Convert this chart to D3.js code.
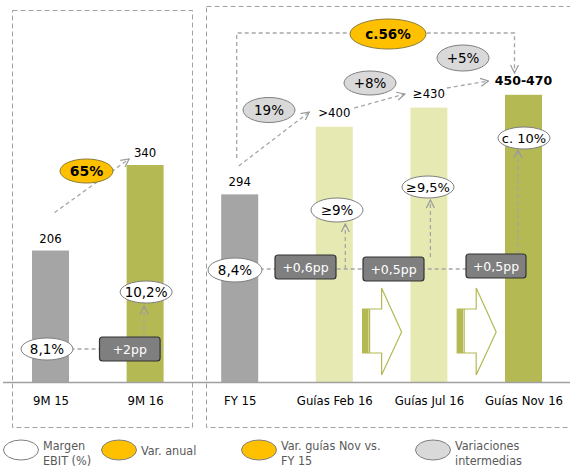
<!DOCTYPE html>
<html><head><meta charset="utf-8">
<script src="https://cdn.jsdelivr.net/npm/d3@7"></script>
<style>
html,body{margin:0;padding:0;background:#fff;}
svg{display:block;font-family:"DejaVu Sans",sans-serif;}
.cond{font-family:"DejaVu Sans Condensed","DejaVu Sans",sans-serif;font-stretch:condensed;}
</style></head>
<body><svg id="c" width="570" height="468"></svg>
<script>
// ---- data ----
const categories = ["9M 15","9M 16","FY 15","Guías Feb 16","Guías Jul 16","Guías Nov 16"];
const values = [206, 340, 294, 400, 430, 450];
const valueLabels = ["206","340","294",">400","≥430","450-470"];
const barKinds = ["actual","actual16","actual","guide","guide","final"];
const margins = ["8,1%","10,2%","8,4%","≥9%","≥9,5%","c. 10%"];
const ppChanges = ["+2pp","+0,6pp","+0,5pp","+0,5pp"];
const growthAnnual = ["65%"];
const growthSteps = ["19%","+8%","+5%"];
const growthTotal = ["c.56%"];
const legendLabels = [["Margen","EBIT (%)"],["Var. anual"],["Var. guías Nov vs.","FY 15"],["Variaciones","intermedias"]];

// ---- layout ----
const svg = d3.select("#c");
const base = 382;
const x = d3.scalePoint().domain(categories).range([3.2, 570.8]).padding(0.5);
const y = d3.scaleLinear().domain([0, 340]).range([base, 165]);
const bw = 37;
const colors = {actual:"#a5a5a5", actual16:"#b4b954", guide:"#e6eab2", final:"#b4b954"};
const dashC = "#a6a6a6";
const defs = svg.append("defs");
defs.append("marker").attr("id","ah").attr("viewBox","0 0 10 10").attr("refX",9).attr("refY",5)
  .attr("markerWidth",10).attr("markerHeight",10).attr("markerUnits","userSpaceOnUse").attr("orient","auto")
  .append("path").attr("d","M1,1 L9,5 L1,9").attr("fill","none").attr("stroke","#999").attr("stroke-width",1.2);

// panels
svg.append("rect").attr("x",12.5).attr("y",10.5).attr("width",180).attr("height",417)
  .attr("fill","none").attr("stroke","#a0a0a0").attr("stroke-dasharray","5,3");
svg.append("rect").attr("x",206.5).attr("y",6.5).attr("width",366).attr("height",421)
  .attr("fill","none").attr("stroke","#a0a0a0").attr("stroke-dasharray","5,3");

// bars
svg.selectAll("rect.bar").data(categories).join("rect").attr("class","bar")
  .attr("x",d=>x(d)-bw/2).attr("width",bw)
  .attr("y",(d,i)=>y(values[i])).attr("height",(d,i)=>base-y(values[i]))
  .attr("fill",(d,i)=>colors[barKinds[i]]);

// axis
const axis = svg.append("g").attr("class","cond").attr("transform",`translate(0,${base})`).call(d3.axisBottom(x).tickSize(0).tickPadding(14));
axis.select(".domain").attr("d","M3,0.5H570").attr("stroke","#a0a0a0").attr("stroke-width",1.5);
axis.selectAll("text").attr("font-size",13).attr("fill","#000").attr("font-family",null);

// value labels
svg.selectAll("text.val").data(categories).join("text").attr("class",(d,i)=>i==5?"val":"val cond")
  .attr("x",d=>x(d)).attr("y",(d,i)=>y(values[i])-(i<3?8:10))
  .attr("text-anchor","middle").attr("font-size",(d,i)=>i==5?12.5:13)
  .attr("font-weight",(d,i)=>i==5?"bold":"normal").text((d,i)=>valueLabels[i]);

// block arrows
function blockArrow(cx){
  const g = svg.append("g").attr("fill","none").attr("stroke","#b4b954").attr("stroke-width",1.2);
  g.append("path").attr("d",`M${cx-19},309 H${cx} V288 L${cx+20},332 L${cx},375 V353 H${cx-19} Z`).attr("fill","#fff");
  g.append("rect").attr("x",cx-19).attr("y",309).attr("width",6).attr("height",44).attr("fill","#b4b954").attr("stroke","none");
  g.append("line").attr("x1",cx-12).attr("x2",cx-12).attr("y1",309).attr("y2",353);
}
blockArrow((x(categories[3])+x(categories[4]))/2);
blockArrow((x(categories[4])+x(categories[5]))/2);

function dline(d, arrow){
  const p = svg.append("path").attr("d",d).attr("fill","none").attr("stroke",dashC).attr("stroke-width",1.3).attr("stroke-dasharray","4,3");
  if(arrow) p.attr("marker-end","url(#ah)");
  return p;
}
function ell(cx,cy,rx,ry,fill,label,opts={}){
  svg.append("ellipse").attr("cx",cx).attr("cy",cy).attr("rx",rx).attr("ry",ry).attr("fill",fill)
    .attr("stroke",opts.stroke||"#7f7f7f").attr("stroke-width",1);
  svg.append("text").attr("x",cx).attr("y",cy).attr("dy","0.36em").attr("text-anchor","middle")
    .attr("font-size",opts.size||13.5).attr("font-weight",opts.bold?"bold":"normal").attr("fill","#000").text(label);
}
function box(x0,x1,cy,label){
  svg.append("rect").attr("x",x0).attr("y",cy-12).attr("width",x1-x0).attr("height",24).attr("rx",3)
    .attr("fill","#7f7f7f").attr("stroke","#333").attr("stroke-width",1.2);
  svg.append("text").attr("x",(x0+x1)/2).attr("y",cy).attr("dy","0.36em").attr("text-anchor","middle")
    .attr("font-size",12.5).attr("fill","#fff").text(label);
}

// --- left panel margin annotations
const xa = x(categories[0]), xb = x(categories[1]);
dline(`M${xa+20},349 H${xb+18}`);
dline(`M${xb-1},337 V306`, true);
box(xa+49, xb+15, 349, ppChanges[0]);
ell(xa-3.5, 349, 26, 11, "#fff", margins[0]);
ell(xb+1, 292, 26, 11, "#fff", margins[1]);
// annual growth arrow
dline(`M${xa+4},${y(values[0])-38} L${xb-16},${y(values[1])-6}`, true);
ell(86.5, 171, 26.5, 12, "#ffc000", growthAnnual[0], {bold:true, size:14, stroke:"#8a7a30"});

// --- right panel
const xf = x(categories[2]), xg = x(categories[3]), xj = x(categories[4]), xn = x(categories[5]);
// total connector
dline(`M${xf-3},158 V33 H${xn-9} V73`, true);
ell(388, 34, 38, 15, "#ffc000", growthTotal[0], {bold:true, size:13.5, stroke:"#8a7a30"});
// step arrows
dline(`M${xf-1},166 L${xg-25},112`, true);
dline(`M${xg+20},108 L${xj-24},94`, true);
dline(`M${xj+18},88 L${xn-35},81`, true);
ell(269, 110, 26, 12.5, "#d9d9d9", growthSteps[0]);
ell(370, 83, 26, 12, "#d9d9d9", growthSteps[1]);
ell(463, 58, 26, 13, "#d9d9d9", growthSteps[2]);
// margin path
dline(`M${xf+20},269 H${xn-18}`);
dline(`M${xg+11},269 V224`, true);
dline(`M${xj+1.5},257 V200`, true);
dline(`M${xn-5.5},254 V150`, true);
box(275, 336, 267, ppChanges[1]);
box(363, 424, 269, ppChanges[2]);
box(466, 526, 266, ppChanges[3]);
ell(235, 270, 27, 12, "#fff", margins[2]);
ell(337, 210, 26, 12, "#fff", margins[3]);
ell(428, 187, 26, 11, "#fff", margins[4], {size:13});
ell(524, 138, 26, 11, "#fff", margins[5], {size:13});

// legend
const legFills = ["#fff","#ffc000","#ffc000","#d9d9d9"];
const legX = [21, 119, 259, 433];
legendLabels.forEach((lines,i)=>{
  svg.append("ellipse").attr("cx",legX[i]).attr("cy",450).attr("rx",17.5).attr("ry",10)
    .attr("fill",legFills[i]).attr("stroke","#7f7f7f").attr("stroke-width",1);
  const t = svg.append("text").attr("class","cond").attr("x",legX[i]+22).attr("font-size",12.5).attr("fill","#595959");
  if(lines.length===1){ t.attr("y",450).attr("dy","0.36em").text(lines[0]); }
  else {
    lines.forEach((l,j)=>t.append("tspan").attr("x",legX[i]+22).attr("y",j?460:445).attr("dy","0.36em").text(l));
  }
});
</script></body></html>
